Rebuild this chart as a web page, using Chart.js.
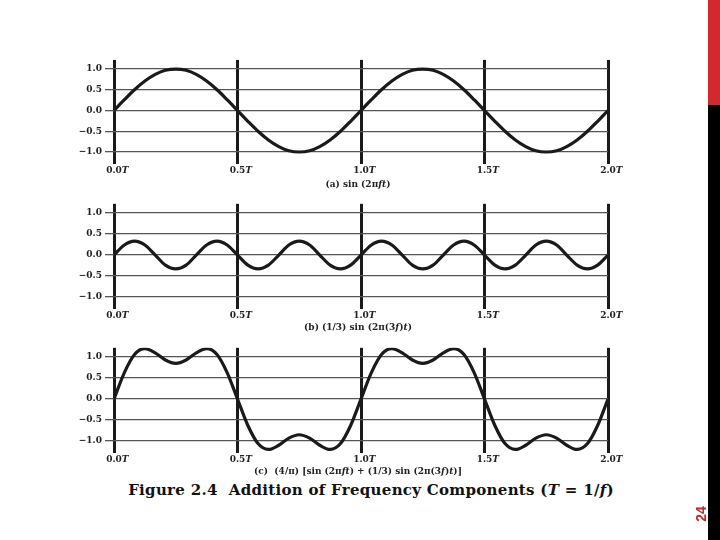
<!DOCTYPE html>
<html>
<head>
<meta charset="utf-8">
<script src="https://cdn.jsdelivr.net/npm/chart.js@4.4.1/dist/chart.umd.min.js"></script>
<style>
    body { margin: 0; background: #fff; }
    #page { position: relative; width: 720px; height: 540px; overflow: hidden; background: #fff; }
    canvas { position: absolute; left: 0; }
    .caption { position: absolute; font-family: "DejaVu Serif", serif; font-weight: bold; font-size: 9px; color: #222; white-space: nowrap; transform: translateX(-50%); z-index: 2; }
    #figTitle { position: absolute; left: 371px; top: 481px; transform: translateX(-50%); font-family: "DejaVu Serif", serif; font-weight: bold; font-size: 15px; letter-spacing: 0.3px; color: #111; white-space: nowrap; }
    #barRed { position: absolute; left: 708px; top: 0; width: 12px; height: 105px; background: #d2282e; }
    #barBlack { position: absolute; left: 708px; top: 105px; width: 12px; height: 435px; background: #000; }
    #pageNum { position: absolute; left: 701px; top: 514px; transform: translate(-50%, -50%) rotate(-90deg); font-family: "Liberation Sans", Arial, sans-serif; font-weight: bold; font-size: 14px; color: #c1272d; }
</style>
</head>
<body>
<div id="page">
    <canvas id="canvaA" width="720" height="140" style="top:40px"></canvas>
    <canvas id="canvaB" width="720" height="140" style="top:185px"></canvas>
    <canvas id="canvaC" width="720" height="140" style="top:330px"></canvas>

    <div class="caption" style="left:358px; top:179px">(a) sin (2&pi;<i>ft</i>)</div>
    <div class="caption" style="left:358px; top:322px">(b) (1/3) sin (2&pi;(3<i>f</i>)<i>t</i>)</div>
    <div class="caption" style="left:358px; top:466px">(c)&nbsp; (4/&pi;) [sin (2&pi;<i>ft</i>) + (1/3) sin (2&pi;(3<i>f</i>)<i>t</i>)]</div>
    <div id="figTitle">Figure 2.4&nbsp; Addition of Frequency Components (<i>T</i> = 1/<i>f</i>)</div>

    <div id="barRed"></div>
    <div id="barBlack"></div>
    <div id="pageNum">24</div>
</div>
<script>
// tiempo en periodos T (pasos de T/24)
const tiempos = [0, 0.042, 0.083, 0.125, 0.167, 0.208, 0.25, 0.292, 0.333, 0.375, 0.417, 0.458,
    0.5, 0.542, 0.583, 0.625, 0.667, 0.708, 0.75, 0.792, 0.833, 0.875, 0.917, 0.958,
    1, 1.042, 1.083, 1.125, 1.167, 1.208, 1.25, 1.292, 1.333, 1.375, 1.417, 1.458,
    1.5, 1.542, 1.583, 1.625, 1.667, 1.708, 1.75, 1.792, 1.833, 1.875, 1.917, 1.958, 2];

// (a) sin(2πft)
const serieA = [0, 0.26, 0.5, 0.71, 0.87, 0.97, 1, 0.97, 0.87, 0.71, 0.5, 0.26,
    0, -0.26, -0.5, -0.71, -0.87, -0.97, -1, -0.97, -0.87, -0.71, -0.5, -0.26,
    0, 0.26, 0.5, 0.71, 0.87, 0.97, 1, 0.97, 0.87, 0.71, 0.5, 0.26,
    0, -0.26, -0.5, -0.71, -0.87, -0.97, -1, -0.97, -0.87, -0.71, -0.5, -0.26, 0];

// (b) (1/3) sin(2π(3f)t)
const serieB = [0, 0.24, 0.33, 0.24, 0, -0.24, -0.33, -0.24, 0, 0.24, 0.33, 0.24,
    0, -0.24, -0.33, -0.24, 0, 0.24, 0.33, 0.24, 0, -0.24, -0.33, -0.24,
    0, 0.24, 0.33, 0.24, 0, -0.24, -0.33, -0.24, 0, 0.24, 0.33, 0.24,
    0, -0.24, -0.33, -0.24, 0, 0.24, 0.33, 0.24, 0, -0.24, -0.33, -0.24, 0];

// (c) suma de ambas componentes
const serieC = [0, 0.63, 1.06, 1.2, 1.1, 0.93, 0.85, 0.93, 1.1, 1.2, 1.06, 0.63,
    0, -0.63, -1.06, -1.2, -1.1, -0.93, -0.85, -0.93, -1.1, -1.2, -1.06, -0.63,
    0, 0.63, 1.06, 1.2, 1.1, 0.93, 0.85, 0.93, 1.1, 1.2, 1.06, 0.63,
    0, -0.63, -1.06, -1.2, -1.1, -0.93, -0.85, -0.93, -1.1, -1.2, -1.06, -0.63, 0];

const ticksY = [-1, -0.5, 0, 0.5, 1];
const ticksX = [0, 0.5, 1, 1.5, 2];

const fuenteEje = 'bold 9px "DejaVu Serif", serif';

// etiquetas del eje x: numero centrado en la linea, T en cursiva
const etiquetasX = {
    id: 'etiquetasX',
    afterDraw(chart) {
        const ctx = chart.ctx;
        const escala = chart.scales.x;
        const y = chart.chartArea.bottom + 7;
        ctx.save();
        ctx.fillStyle = '#222';
        ctx.textBaseline = 'middle';
        escala.ticks.forEach((tick) => {
            const x = escala.getPixelForValue(tick.value);
            const num = tick.value.toFixed(1);
            ctx.font = fuenteEje;
            const w = ctx.measureText(num).width;
            ctx.textAlign = 'left';
            ctx.fillText(num, x - w / 2, y);
            ctx.font = 'italic ' + fuenteEje;
            ctx.fillText('T', x + w / 2, y);
        });
        ctx.restore();
    }
};

function crearPanel(idCanva, serie, padTop, altoX) {
    return new Chart(document.getElementById(idCanva), {
        type: 'line',
        data: {
            datasets: [{
                data: tiempos.map((t, i) => ({ x: t, y: serie[i] })),
                borderColor: '#1a1a1a',
                borderWidth: 3.2,
                pointRadius: 0,
                cubicInterpolationMode: 'monotone',
                fill: false
            }]
        },
        options: {
            responsive: false,
            animation: false,
            layout: { padding: { top: padTop, right: 112, bottom: 0, left: 0 } },
            plugins: { legend: { display: false }, tooltip: { enabled: false } },
            scales: {
                x: {
                    type: 'linear',
                    min: 0,
                    max: 2,
                    afterBuildTicks: (s) => { s.ticks = ticksX.map(v => ({ value: v })); },
                    afterFit: (s) => { s.height = altoX; },
                    ticks: { display: false },
                    border: { display: false },
                    grid: { color: '#1a1a1a', lineWidth: 3, drawTicks: false }
                },
                y: {
                    min: -1.28,
                    max: 1.22,
                    afterBuildTicks: (s) => { s.ticks = ticksY.map(v => ({ value: v })); },
                    afterFit: (s) => { s.width = 114; },
                    border: { display: false },
                    grid: { color: '#555', lineWidth: 1.3, tickLength: 9 },
                    ticks: {
                        padding: 3,
                        color: '#222',
                        font: { family: '"DejaVu Serif", serif', weight: 'bold', size: 9 },
                        callback: (v) => (v < 0 ? '\u2212' + Math.abs(v).toFixed(1) : v.toFixed(1))
                    }
                }
            }
        },
        plugins: [etiquetasX]
    });
}

crearPanel('canvaA', serieA, 19.9, 16.4);
crearPanel('canvaB', serieB, 18.8, 16.2);
crearPanel('canvaC', serieC, 17.8, 17.2);
</script>
</body>
</html>
